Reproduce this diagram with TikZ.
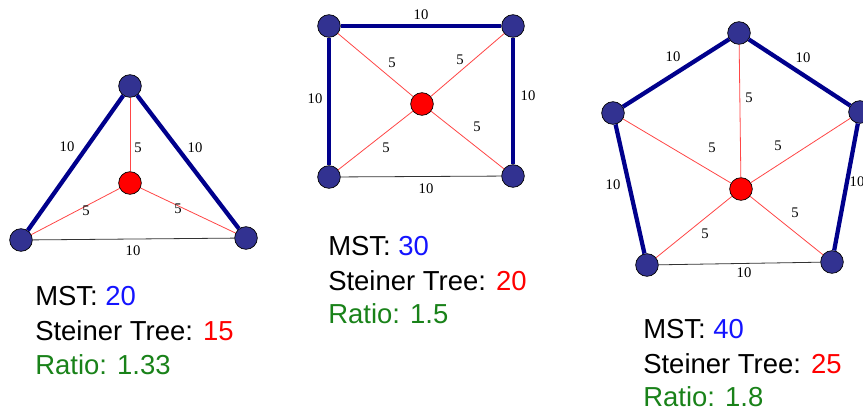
\documentclass[tikz,border=0pt]{standalone}
\usepackage{fontspec}
\setmainfont{Liberation Sans}
\newfontfamily\wtfont{Liberation Serif}
\usepackage{xcolor}
\usetikzlibrary{positioning}

\definecolor{vtxblue}{RGB}{50,50,145}
\definecolor{mstblue}{RGB}{0,0,140}
\definecolor{spokered}{RGB}{255,70,70}
\definecolor{txtblue}{RGB}{20,20,255}
\definecolor{txtred}{RGB}{255,0,0}
\definecolor{txtgreen}{RGB}{25,130,25}

\begin{document}
\begin{tikzpicture}[
  x=0.75pt, y=-0.75pt,
  vtx/.style={circle, draw=black, line width=0.5pt, fill=vtxblue, inner sep=0pt,
              minimum size=17pt},
  hub/.style={vtx, fill=red},
  mst/.style={draw=mstblue, line width=3.2pt},
  spoke/.style={draw=spokered, line width=0.6pt},
  plain/.style={draw=black!80, line width=0.6pt},
  wt/.style={font=\wtfont\fontsize{11}{13}\selectfont, inner sep=0pt},
  info/.style={font=\fontsize{20.6}{25}\selectfont, anchor=base west, inner sep=0pt},
]
\useasboundingbox (0,0) rectangle (863,412);

%% ---- triangle --------------------------------------------------------------
\node[vtx] (ta) at (130,86) {};
\node[vtx] (tb) at (21,240) {};
\node[vtx] (tc) at (246,238) {};
\node[hub] (th) at (130,183) {};

\draw[mst]   (ta) -- (tb);
\draw[mst]   (ta) -- (tc);
\draw[plain] (tb) -- (tc);
\draw[spoke] (th) -- (ta);
\draw[spoke] (th) -- (tb);
\draw[spoke] (th) -- (tc);

\node[wt] (tw1) at (67,147)  {10};
\node[wt] (tw2) at (195,148) {10};
\node[wt] (tw3) at (138,148) {5};
\node[wt] (tw4) at (86,211)  {5};
\node[wt] (tw5) at (178,209) {5};
\node[wt] (tw6) at (133,251) {10};

\node[info] (tmst) at (35,305) {MST: \textcolor{txtblue}{20}};
\node[info] (tst)  at (35,340) {Steiner Tree: \textcolor{txtred}{15}};
\node[info, text=txtgreen] (trat) at (35,374) {Ratio: 1.33};

%% ---- square ----------------------------------------------------------------
\node[vtx] (sa) at (329,26)  {};
\node[vtx] (sb) at (513,26)  {};
\node[vtx] (sc) at (513,176) {};
\node[vtx] (sd) at (329,177) {};
\node[hub] (sh) at (422,104) {};

\draw[mst]   (sa) -- (sb);
\draw[mst]   (sa) -- (sd);
\draw[mst]   (sb) -- (sc);
\draw[plain] (sd) -- (sc);
\draw[spoke] (sh) -- (sa);
\draw[spoke] (sh) -- (sb);
\draw[spoke] (sh) -- (sc);
\draw[spoke] (sh) -- (sd);

\node[wt] (sw1) at (421,15)  {10};
\node[wt] (sw2) at (315,99)  {10};
\node[wt] (sw3) at (528,96)  {10};
\node[wt] (sw4) at (392,63)  {5};
\node[wt] (sw5) at (460,60)  {5};
\node[wt] (sw6) at (386,148) {5};
\node[wt] (sw7) at (477,127) {5};
\node[wt] (sw8) at (426,189) {10};

\node[info] (smst) at (328,255) {MST: \textcolor{txtblue}{30}};
\node[info] (sst)  at (328,290) {Steiner Tree: \textcolor{txtred}{20}};
\node[info, text=txtgreen] (srat) at (328,323) {Ratio: 1.5};

%% ---- pentagon --------------------------------------------------------------
\node[vtx] (pa) at (739,33)  {};
\node[vtx] (pb) at (860,112) {};
\node[vtx] (pc) at (832,262) {};
\node[vtx] (pd) at (647,265) {};
\node[vtx] (pe) at (613,113) {};
\node[hub] (ph) at (741,189) {};

\draw[mst]   (pa) -- (pb);
\draw[mst]   (pb) -- (pc);
\draw[mst]   (pe) -- (pa);
\draw[mst]   (pe) -- (pd);
\draw[plain] (pd) -- (pc);
\draw[spoke] (ph) -- (pa);
\draw[spoke] (ph) -- (pb);
\draw[spoke] (ph) -- (pc);
\draw[spoke] (ph) -- (pd);
\draw[spoke] (ph) -- (pe);

\node[wt] (pw1)  at (673,57)  {10};
\node[wt] (pw2)  at (803,58)  {10};
\node[wt] (pw3)  at (749,98)  {5};
\node[wt] (pw4)  at (712,148) {5};
\node[wt] (pw5)  at (778,146) {5};
\node[wt] (pw6)  at (613,185) {10};
\node[wt] (pw7)  at (857,182) {10};
\node[wt] (pw8)  at (795,213) {5};
\node[wt] (pw9)  at (705,234) {5};
\node[wt] (pw10) at (744,273) {10};

\node[info] (pmst) at (643,338) {MST: \textcolor{txtblue}{40}};
\node[info] (pst)  at (643,373) {Steiner Tree: \textcolor{txtred}{25}};
\node[info, text=txtgreen] (prat) at (643,406) {Ratio: 1.8};

\end{tikzpicture}
\end{document}
